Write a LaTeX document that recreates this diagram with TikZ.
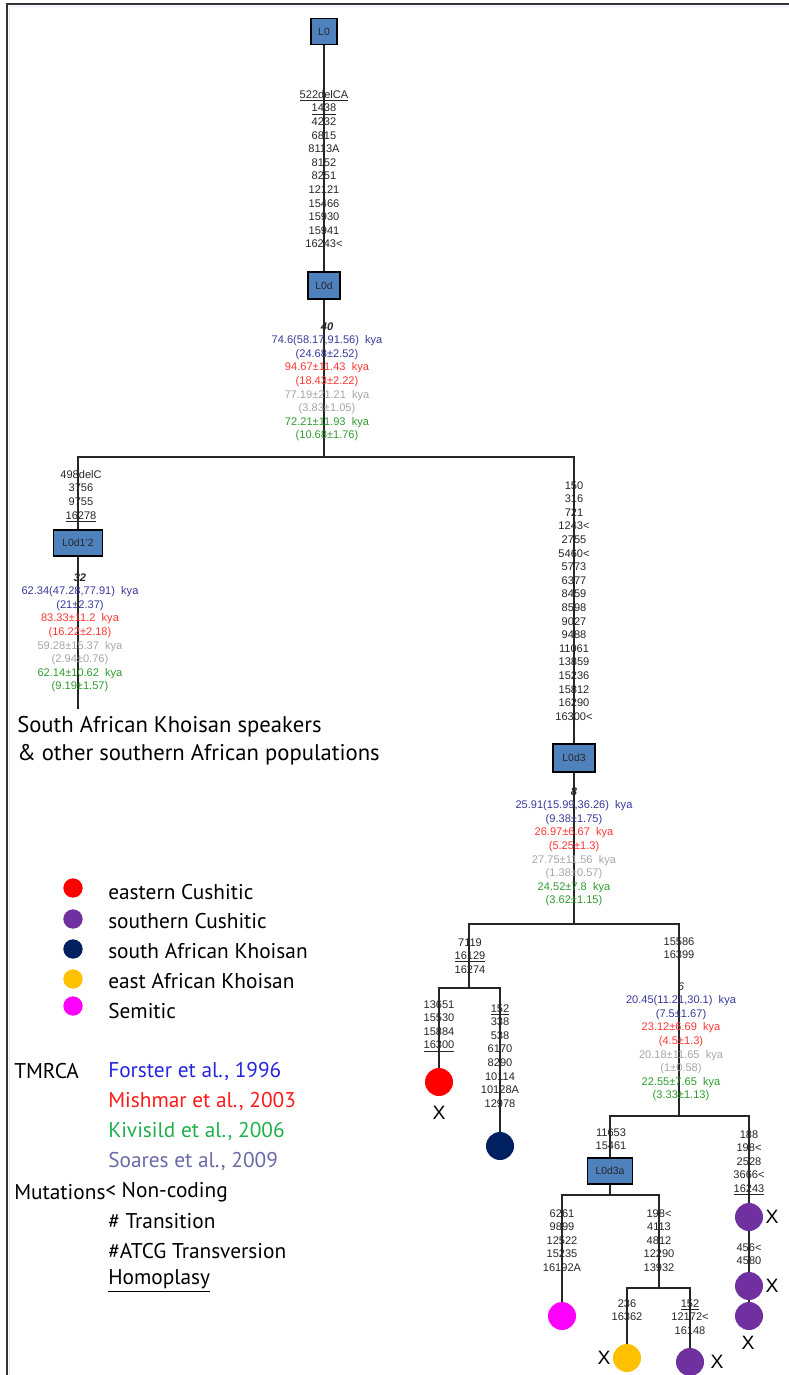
\documentclass[tikz,border=0pt]{standalone}
\usepackage{fontspec}
\setmainfont{Liberation Sans}
\newfontfamily\legfont{PT Sans}
\definecolor{tblue}{HTML}{38389C}
\definecolor{tred}{HTML}{FF3535}
\definecolor{tgray}{HTML}{A6A6A6}
\definecolor{tgreen}{HTML}{2E9A2E}
\definecolor{lblue}{HTML}{2525E0}
\definecolor{lred}{HTML}{FF1A1A}
\definecolor{lgreen}{HTML}{1FB04C}
\definecolor{lsoar}{HTML}{6A6AA8}
\definecolor{boxblue}{HTML}{4F81BD}
\definecolor{cpurple}{HTML}{7030A0}
\definecolor{cnavy}{HTML}{002060}
\definecolor{cyellow}{HTML}{FFC000}
\definecolor{cmag}{HTML}{FF00FF}
\definecolor{edgecol}{HTML}{262626}
\newcommand{\mutfont}{\fontsize{8.3}{10.2}\selectfont}
\newcommand{\kya}[1]{#1~ kya}
\tikzset{
  hapbox/.style={draw=black, line width=0.9pt, fill=boxblue, inner sep=0pt, font=\fontsize{7.8}{9}\selectfont, text=black!85},
  mut/.style={font=\mutfont, align=center, inner sep=0pt, anchor=north, text=black!85},
  edge/.style={draw=edgecol, line width=1.2pt},
  leaf/.style={circle, inner sep=0pt, minimum size=21pt},
  xmark/.style={font=\fontsize{14.5}{16}\selectfont, inner sep=0pt},
  legdot/.style={circle, inner sep=0pt, minimum size=14.5pt},
  legtext/.style={font=\legfont\fontsize{16}{18}\selectfont, inner sep=0pt, anchor=west},
  poptext/.style={font=\legfont\fontsize{17}{18}\selectfont, inner sep=0pt, anchor=west},
}
\begin{document}
\begin{tikzpicture}[x=0.75pt, y=-0.75pt]
\useasboundingbox (0,0) rectangle (789,1375);
% frame
\draw[color=black!15!blue!10, line width=1.2pt] (9.5,1375) -- (9.5,6.5) -- (789,6.5);
\draw[color=black!80, line width=1.2pt] (7,1375) -- (7,4) -- (789,4);

% haplogroup boxes
\node[hapbox, minimum width=19.5pt, minimum height=19.5pt] (L0) at (324,31.5) {L0};
\node[hapbox, minimum width=24pt, minimum height=20.25pt] (L0d) at (324,285.5) {L0d};
\node[hapbox, minimum width=36.75pt, minimum height=19.5pt] (L0d12) at (78,543) {L0d1'2};
\node[hapbox, minimum width=31.5pt, minimum height=21pt] (L0d3) at (574,758) {L0d3};
\node[hapbox, minimum width=33.75pt, minimum height=19.5pt] (L0d3a) at (610,1171) {L0d3a};

% junctions
\coordinate (j0) at (324,457);
\coordinate (e1) at (78,709);
\coordinate (j3) at (574,924);
\coordinate (j4) at (469,988);
\coordinate (j5) at (679,1116);
\coordinate (j6) at (610,1195);
\coordinate (j7) at (659,1288);

% leaves
\node[leaf, fill=red] (c1) at (439,1082) {};
\node[leaf, fill=cnavy] (c2) at (500,1146) {};
\node[leaf, fill=cmag] (c3) at (562,1316) {};
\node[leaf, fill=cyellow] (c4) at (627,1358) {};
\node[leaf, fill=cpurple] (c5) at (690,1362) {};
\node[leaf, fill=cpurple] (c6) at (749,1217) {};
\node[leaf, fill=cpurple] (c7) at (749,1286) {};
\node[leaf, fill=cpurple] (c8) at (749,1316) {};

% edges
\draw[edge] (L0) -- (L0d);
\draw[edge] (L0d) -- (j0);
\draw[edge] (L0d12) |- (j0) -| (L0d3);
\draw[edge] (L0d12) -- (e1);
\draw[edge] (L0d3) -- (j3);
\draw[edge] (j4) |- (j3) -| (j5);
\draw[edge] (c1) |- (j4) -| (c2);
\draw[edge] (L0d3a) |- (j5) -| (c6);
\draw[edge] (c6) -- (c7);
\draw[edge] (c7) -- (c8);
\draw[edge] (L0d3a) -- (j6);
\draw[edge] (c3) |- (j6) -| (j7);
\draw[edge] (c4) |- (j7) -| (c5);

% X marks
\node[xmark] (x1) at (439,1113) {X};
\node[xmark] (x2) at (604,1358) {X};
\node[xmark] (x3) at (717,1362) {X};
\node[xmark] (x4) at (772,1217) {X};
\node[xmark] (x5) at (772,1286) {X};
\node[xmark] (x6) at (748,1343) {X};

% mutation lists
\node[mut] (m0) at (324,90) {\underline{522delCA}\\\underline{1438}\\4232\\6815\\8113A\\8152\\8251\\12121\\15466\\15930\\15941\\16243<};
\node[mut] (m1) at (81,470) {498delC\\3756\\9755\\\underline{16278}};
\node[mut] (m2) at (574,481) {150\\316\\721\\1243<\\2755\\5460<\\5773\\6377\\8459\\8598\\9027\\9488\\11061\\13859\\15236\\15812\\16290\\16300<};
\node[mut] (m3) at (470,938) {7119\\\underline{16129}\\16274};
\node[mut] (m4) at (439,1000) {13651\\15530\\15884\\\underline{16300}};
\node[mut] (m5) at (500,1004) {\underline{152}\\338\\538\\6170\\8290\\10114\\10128A\\12978};
\node[mut] (m6) at (679,937) {15586\\16399};
\node[mut] (m7) at (611,1128) {11653\\15461};
\node[mut] (m8) at (749,1130) {188\\198<\\2528\\3666<\\\underline{16243}};
\node[mut] (m9) at (749,1243) {456<\\4580};
\node[mut] (m10) at (562,1209) {6261\\9899\\12522\\15235\\16192A};
\node[mut] (m11) at (659,1209) {198<\\4113\\4812\\12290\\13932};
\node[mut] (m12) at (627,1299) {236\\16362};
\node[mut] (m13) at (690,1299) {\underline{152}\\12172<\\16148};

% TMRCA estimates
\node[mut] (d0) at (327,322) {\textbf{\textit{40}}\\
\textcolor{tblue}{\kya{74.6(58.17,91.56)}}\\\textcolor{tblue}{(24.68±2.52)}\\
\textcolor{tred}{\kya{94.67±11.43}}\\\textcolor{tred}{(18.43±2.22)}\\
\textcolor{tgray}{\kya{77.19±21.21}}\\\textcolor{tgray}{(3.83±1.05)}\\
\textcolor{tgreen}{\kya{72.21±11.93}}\\\textcolor{tgreen}{(10.68±1.76)}};
\node[mut] (d1) at (80,573) {\textbf{\textit{32}}\\
\textcolor{tblue}{\kya{62.34(47.28,77.91)}}\\\textcolor{tblue}{(21±2.37)}\\
\textcolor{tred}{\kya{83.33±11.2}}\\\textcolor{tred}{(16.22±2.18)}\\
\textcolor{tgray}{\kya{59.28±15.37}}\\\textcolor{tgray}{(2.94±0.76)}\\
\textcolor{tgreen}{\kya{62.14±10.62}}\\\textcolor{tgreen}{(9.19±1.57)}};
\node[mut] (d2) at (574,787) {\textbf{\textit{8}}\\
\textcolor{tblue}{\kya{25.91(15.99,36.26)}}\\\textcolor{tblue}{(9.38±1.75)}\\
\textcolor{tred}{\kya{26.97±6.67}}\\\textcolor{tred}{(5.25±1.3)}\\
\textcolor{tgray}{\kya{27.75±11.56}}\\\textcolor{tgray}{(1.38±0.57)}\\
\textcolor{tgreen}{\kya{24.52±7.8}}\\\textcolor{tgreen}{(3.62±1.15)}};
\node[mut] (d3) at (681,982) {\textit{6}\\
\textcolor{tblue}{\kya{20.45(11.21,30.1)}}\\\textcolor{tblue}{(7.5±1.67)}\\
\textcolor{tred}{\kya{23.12±6.69}}\\\textcolor{tred}{(4.5±1.3)}\\
\textcolor{tgray}{\kya{20.18±11.65}}\\\textcolor{tgray}{(1±0.58)}\\
\textcolor{tgreen}{\kya{22.55±7.65}}\\\textcolor{tgreen}{(3.33±1.13)}};

% population note
\node[poptext] (pop1) at (17,727) {South African Khoisan speakers};
\node[poptext] (pop2) at (17,755) {\& other southern African populations};

% legend
\node[legdot, fill=red] (ld1) at (73,888) {};
\node[legdot, fill=cpurple] (ld2) at (73,919) {};
\node[legdot, fill=cnavy] (ld3) at (73,949) {};
\node[legdot, fill=cyellow] (ld4) at (73,979) {};
\node[legdot, fill=cmag] (ld5) at (73,1006) {};
\node[legtext] (lt1) at (108,892) {eastern Cushitic};
\node[legtext] (lt2) at (108,921) {southern Cushitic};
\node[legtext] (lt3) at (108,951) {south African Khoisan};
\node[legtext] (lt4) at (108,981) {east African Khoisan};
\node[legtext] (lt5) at (108,1011) {Semitic};
\node[legtext] (tm) at (14,1071) {TMRCA};
\node[legtext, text=lblue] (r1) at (108,1071) {Forster et al., 1996};
\node[legtext, text=lred] (r2) at (108,1101) {Mishmar et al., 2003};
\node[legtext, text=lgreen] (r3) at (108,1131) {Kivisild et al., 2006};
\node[legtext, text=lsoar] (r4) at (108,1161) {Soares et al., 2009};
\node[legtext] (mu) at (14,1192) {Mutations};
\node[legtext] (k1) at (105,1192) {< Non-coding};
\node[legtext] (k2) at (108,1221) {\# Transition};
\node[legtext] (k3) at (108,1251) {\#ATCG Transversion};
\node[legtext] (k4) at (108,1281) {\underline{Homoplasy}};
\end{tikzpicture}
\end{document}
